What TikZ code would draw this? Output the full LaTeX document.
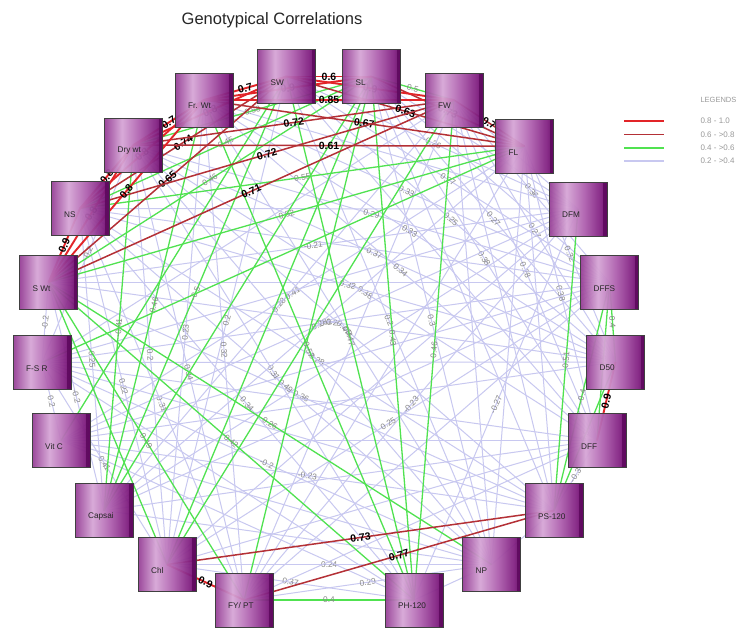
\documentclass[tikz,border=0pt]{standalone}
\usepackage{fontspec}
\setmainfont{Liberation Sans}
\pgfdeclarelayer{bg}
\pgfdeclarelayer{edges}
\pgfsetlayers{bg,edges,main}
\definecolor{cRa}{RGB}{226,36,40}
\definecolor{cRb}{RGB}{180,48,54}
\definecolor{cGr}{RGB}{80,226,80}
\definecolor{cLv}{RGB}{200,200,240}
\definecolor{cLab}{RGB}{135,135,135}
\definecolor{pA}{RGB}{150,62,150}
\definecolor{pB}{RGB}{214,166,214}
\definecolor{pC}{RGB}{176,98,176}
\definecolor{pD}{RGB}{128,30,128}
\definecolor{pE}{RGB}{96,10,96}
\pgfdeclarehorizontalshading{boxshade}{100bp}{color(0bp)=(pA); color(25bp)=(pA); color(40bp)=(pB); color(55bp)=(pC); color(70bp)=(pD); color(75bp)=(pE); color(100bp)=(pE)}
\newcommand\ed[4]{\draw[#3] (#1.center) -- (#2.center) node[midway, sloped, #3l]{#4};}
\tikzset{
  box/.style={draw=black!75, line width=0.7pt, shading=boxshade, fill opacity=0.95,
    minimum width=58pt, minimum height=54pt, inner sep=0pt,
    path picture={\fill[pE] ([xshift=-4pt]path picture bounding box.north east) rectangle (path picture bounding box.south east);}},
  blab/.style={font=\fontsize{8.2}{9}\selectfont, text=black!85, text opacity=1, fill opacity=1},
  ra/.style={cRa, line width=1.9pt},
  rb/.style={cRb, line width=1.5pt},
  gr/.style={cGr, line width=1.3pt},
  lv/.style={cLv, line width=1pt},
  boldlab/.style={font=\bfseries\fontsize{10.5}{11}\selectfont, text=black, inner sep=1pt},
  graylab/.style={font=\fontsize{8.3}{9}\selectfont, text=cLab, inner sep=1pt},
  ral/.style={boldlab}, rbl/.style={boldlab}, grl/.style={graylab}, lvl/.style={graylab},
  leglab/.style={anchor=west, font=\fontsize{8}{9}\selectfont, text=black!40}
}
\begin{document}
\begin{tikzpicture}[x=1pt,y=-1pt]
\useasboundingbox (0,0) rectangle (740,629);
\begin{pgfonlayer}{bg}
\fill[white] (0,0) rectangle (740,629);
\end{pgfonlayer}

\node[font=\fontsize{16.5}{18}\selectfont, text=black!85] (title) at (272,20) {Genotypical Correlations};

% boxes
\node[box, label={[blab, anchor=west, xshift=10pt, yshift=-6pt]west:SW}] (SW) at (286.5,76.5) {};
\node[box, label={[blab, anchor=west, xshift=10pt, yshift=-6pt]west:SL}] (SL) at (371.5,76.5) {};
\node[box, label={[blab, anchor=west, xshift=10pt, yshift=-6pt]west:Fr. Wt}] (FrWt) at (204,100) {};
\node[box, label={[blab, anchor=west, xshift=10pt, yshift=-6pt]west:FW}] (FW) at (454,100) {};
\node[box, label={[blab, anchor=west, xshift=10pt, yshift=-6pt]west:Dry wt}] (Dry) at (133.5,145) {};
\node[box, label={[blab, anchor=west, xshift=10pt, yshift=-6pt]west:FL}] (FL) at (524.5,146.2) {};
\node[box, label={[blab, anchor=west, xshift=10pt, yshift=-6pt]west:NS}] (NS) at (80,208.5) {};
\node[box, label={[blab, anchor=west, xshift=10pt, yshift=-6pt]west:DFM}] (DFM) at (578,209) {};
\node[box, label={[blab, anchor=west, xshift=10pt, yshift=-6pt]west:S Wt}] (SWt) at (48.5,282.5) {};
\node[box, label={[blab, anchor=west, xshift=10pt, yshift=-6pt]west:DFFS}] (DFFS) at (609.5,282.5) {};
\node[box, label={[blab, anchor=west, xshift=10pt, yshift=-6pt]west:F-S R}] (FSR) at (42,362.5) {};
\node[box, label={[blab, anchor=west, xshift=10pt, yshift=-6pt]west:D50}] (D50) at (615.5,362) {};
\node[box, label={[blab, anchor=west, xshift=10pt, yshift=-6pt]west:Vit C}] (VitC) at (61,440.5) {};
\node[box, label={[blab, anchor=west, xshift=10pt, yshift=-6pt]west:DFF}] (DFF) at (597,440.5) {};
\node[box, label={[blab, anchor=west, xshift=10pt, yshift=-6pt]west:Capsai}] (Caps) at (104,510.5) {};
\node[box, label={[blab, anchor=west, xshift=10pt, yshift=-6pt]west:PS-120}] (PS) at (554,510.5) {};
\node[box, label={[blab, anchor=west, xshift=10pt, yshift=-6pt]west:Chl}] (Chl) at (167,564.5) {};
\node[box, label={[blab, anchor=west, xshift=10pt, yshift=-6pt]west:NP}] (NP) at (491.5,564.5) {};
\node[box, label={[blab, anchor=west, xshift=10pt, yshift=-6pt]west:FY/ PT}] (FY) at (244,600) {};
\node[box, label={[blab, anchor=west, xshift=10pt, yshift=-6pt]west:PH-120}] (PH) at (414,600) {};

\begin{pgfonlayer}{edges}
% lavender 0.2 - 0.4
\ed{SWt}{DFM}{lv}{-0.21}
\ed{Dry}{DFFS}{lv}{0.29}
\ed{FrWt}{DFFS}{lv}{0.33}
\ed{FrWt}{D50}{lv}{0.33}
\ed{Dry}{D50}{lv}{0.37}
\ed{FrWt}{DFF}{lv}{0.34}
\ed{VitC}{PS}{lv}{-0.23}
\ed{FSR}{NP}{lv}{-0.2}
\ed{NS}{PH}{lv}{0.34}
\ed{SWt}{PS}{lv}{0.36}
\ed{NS}{FY}{lv}{0.31}
\ed{NS}{Caps}{lv}{0.25}
\ed{NS}{Chl}{lv}{0.22}
\ed{Dry}{Chl}{lv}{0.2}
\ed{Dry}{FY}{lv}{0.34}
\ed{FrWt}{Chl}{lv}{0.23}
\ed{SW}{Chl}{lv}{0.2}
\ed{FrWt}{FY}{lv}{0.32}
\ed{NS}{NP}{lv}{0.49}
\ed{Dry}{PH}{lv}{0.31}
\ed{DFF}{PS}{lv}{-0.3}
\ed{Chl}{NP}{lv}{0.24}
\ed{Chl}{PH}{lv}{0.37}
\ed{FY}{NP}{lv}{0.29}
\ed{SW}{DFM}{lv}{-0.26}
\ed{SL}{DFFS}{lv}{}
\ed{FW}{DFFS}{lv}{0.36}
\ed{SL}{D50}{lv}{0.27}
\ed{FW}{D50}{lv}{0.27}
\ed{SL}{DFF}{lv}{0.38}
\ed{FW}{DFF}{lv}{0.28}
\ed{FL}{DFF}{lv}{0.38}
\ed{FL}{D50}{lv}{0.32}
\ed{SW}{D50}{lv}{0.25}
\ed{SW}{DFFS}{lv}{0.27}
\ed{SL}{NP}{lv}{0.3}
\ed{SW}{NP}{lv}{0.2}
\ed{FY}{DFM}{lv}{-0.23}
\ed{Chl}{DFFS}{lv}{0.25}
\ed{PH}{DFM}{lv}{-0.27}
\ed{FSR}{Chl}{lv}{0.41}
\ed{SWt}{Caps}{lv}{-0.2}
\ed{SWt}{FSR}{lv}{-0.2}
\ed{Dry}{FSR}{lv}{-0.2}
\ed{FSR}{VitC}{lv}{0.2}
\ed{Caps}{FW}{lv}{0.28}
\ed{VitC}{FL}{lv}{0.41}
\ed{Dry}{DFF}{lv}{0.38}
\ed{NS}{D50}{lv}{0.32}
\ed{DFFS}{FSR}{lv}{0.3}
\ed{D50}{SWt}{lv}{0.2}
\ed{DFM}{VitC}{lv}{0.28}
\ed{PS}{Dry}{lv}{0.47}
\ed{NP}{FrWt}{lv}{0.4}
\ed{NS}{PS}{lv}{0.28}
\ed{PS}{NP}{lv}{}
\ed{NP}{PH}{lv}{}
\ed{DFM}{NS}{lv}{}
\ed{DFM}{FSR}{lv}{}
\ed{DFM}{Caps}{lv}{}
\ed{DFM}{Chl}{lv}{}
\ed{DFM}{FrWt}{lv}{}
\ed{DFFS}{NS}{lv}{}
\ed{DFFS}{VitC}{lv}{}
\ed{DFFS}{Caps}{lv}{}
\ed{D50}{FSR}{lv}{}
\ed{D50}{VitC}{lv}{}
\ed{DFF}{FSR}{lv}{}
\ed{DFF}{Caps}{lv}{}
\ed{DFF}{Chl}{lv}{}
\ed{DFF}{FY}{lv}{}
\ed{PS}{FSR}{lv}{}
\ed{NP}{Dry}{lv}{}
\ed{FY}{FL}{lv}{}
\ed{FY}{FW}{lv}{}
\ed{Caps}{FL}{lv}{}
\ed{FSR}{FW}{lv}{}
\ed{SL}{PS}{lv}{}
\ed{FW}{NP}{lv}{}
\ed{FW}{PS}{lv}{}
\ed{FL}{PS}{lv}{}
\ed{FL}{NP}{lv}{}
\ed{SW}{DFF}{lv}{}
\ed{VitC}{PH}{lv}{}
\ed{FSR}{PH}{lv}{}
\ed{VitC}{DFF}{lv}{}
\ed{FY}{DFFS}{lv}{}
\ed{SWt}{DFFS}{lv}{}
\ed{SL}{DFM}{lv}{}
\ed{FW}{DFM}{lv}{}
\ed{VitC}{NP}{lv}{}
\ed{Caps}{NP}{lv}{}
% green 0.4 - 0.6
\ed{SL}{FW}{gr}{0.5}
\ed{Dry}{SL}{gr}{0.58}
\ed{NS}{SL}{gr}{0.45}
\ed{SWt}{SL}{gr}{0.46}
\ed{NS}{FL}{gr}{0.55}
\ed{SWt}{FL}{gr}{0.52}
\ed{DFM}{PS}{gr}{0.51}
\ed{DFFS}{D50}{gr}{0.4}
\ed{DFFS}{DFF}{gr}{0.5}
\ed{DFFS}{PS}{gr}{-0.4}
\ed{D50}{PS}{gr}{0.5}
\ed{SWt}{PH}{gr}{0.42}
\ed{SWt}{FY}{gr}{0.49}
\ed{Caps}{SW}{gr}{-0.5}
\ed{Caps}{FrWt}{gr}{0.46}
\ed{Caps}{Dry}{gr}{-0.41}
\ed{Caps}{SL}{gr}{}
\ed{SWt}{Chl}{gr}{}
\ed{Chl}{SL}{gr}{}
\ed{FY}{SL}{gr}{}
\ed{FrWt}{PH}{gr}{0.57}
\ed{SW}{PH}{gr}{0.47}
\ed{SL}{PH}{gr}{0.43}
\ed{FW}{PH}{gr}{0.46}
\ed{FL}{FSR}{gr}{}
\ed{FW}{Chl}{gr}{}
\ed{SW}{VitC}{gr}{}
\ed{SWt}{NP}{gr}{0.26}
\ed{FY}{PH}{gr}{0.4}
% dark red 0.6 - 0.8
\ed{NS}{SW}{rb}{0.74}
\ed{SWt}{SW}{rb}{0.65}
\ed{Dry}{FW}{rb}{0.72}
\ed{FrWt}{FL}{rb}{0.67}
\ed{SW}{FL}{rb}{0.63}
\ed{FW}{FL}{rb}{0.7}
\ed{SL}{FL}{rb}{0.73}
\ed{Dry}{FL}{rb}{0.61}
\ed{NS}{FW}{rb}{0.72}
\ed{SWt}{FW}{rb}{0.71}
\ed{Chl}{PS}{rb}{0.73}
\ed{FY}{PS}{rb}{0.77}
% bright red 0.8 - 1.0
\ed{FrWt}{SW}{ra}{0.7}
\ed{FrWt}{SL}{ra}{0.9}
\ed{FrWt}{FW}{ra}{0.85}
\ed{SW}{FW}{ra}{0.9}
\ed{SW}{SL}{ra}{0.6}
\ed{Dry}{FrWt}{ra}{0.7}
\ed{Dry}{SW}{ra}{0.8}
\ed{NS}{Dry}{ra}{0.8}
\ed{NS}{FrWt}{ra}{0.8}
\ed{NS}{SWt}{ra}{0.9}
\ed{SWt}{Dry}{ra}{0.8}
\ed{SWt}{FrWt}{ra}{0.8}
\ed{Chl}{FY}{ra}{0.9}
\ed{D50}{DFF}{ra}{0.9}
\end{pgfonlayer}

% legend
\node[leglab, font=\fontsize{7.5}{8}\selectfont] (legT) at (697,100) {LEGENDS};
\draw[cRa, line width=1.8pt] (624,121) -- (664,121);
\draw[cRb, line width=1.6pt] (624,134.5) -- (664,134.5);
\draw[cGr, line width=1.6pt] (624,148) -- (664,148);
\draw[cLv, line width=1.2pt] (624,161) -- (664,161);
\node[leglab] (leg1) at (697,121) {0.8 - 1.0};
\node[leglab] (leg2) at (697,134.5) {0.6 - >0.8};
\node[leglab] (leg3) at (697,148) {0.4 - >0.6};
\node[leglab] (leg4) at (697,161) {0.2 - >0.4};
\end{tikzpicture}
\end{document}
